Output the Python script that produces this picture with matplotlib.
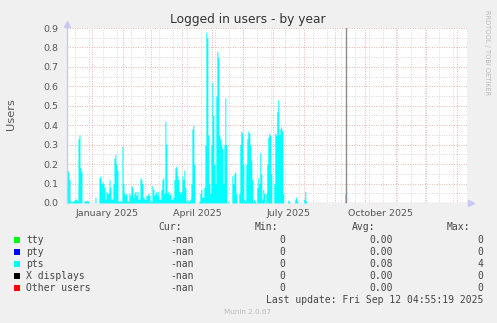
import matplotlib
matplotlib.use("Agg")
import matplotlib.pyplot as plt
import matplotlib.dates as mdates
import numpy as np
import pandas as pd

DAY0 = pd.Timestamp("2025-01-01")
X_START = pd.Timestamp("2024-12-06")
X_END = pd.Timestamp("2026-01-10 10:00")
NOW = pd.Timestamp("2025-09-12 04:55:19")

# pts users, sparse: day offset from 2025-01-01 -> daily value (other days 0)
pts_day = [-25, -24, -23, -22, -21, -20, -19, -18, -17, -16, -15, -14, -13, -12, -11,
           -8, -7, -6, -5, -4, 3, 7, 8, 9, 10, 11, 12, 13, 14, 15, 16, 17, 18, 19, 20,
           21, 22, 23, 24, 25, 26, 27, 28, 29, 30, 31, 32, 33, 34, 35, 36, 37, 38, 39,
           40, 41, 42, 43, 44, 45, 46, 47, 48, 49, 50, 51, 52, 53, 54, 55, 56, 57, 58,
           59, 60, 61, 62, 63, 64, 65, 66, 67, 68, 69, 70, 71, 72, 73, 74, 75, 76, 77,
           78, 79, 80, 81, 82, 83, 84, 85, 86, 87, 88, 89, 90, 91, 92, 93, 94, 95, 96,
           97, 98, 99, 100, 101, 102, 107, 108, 109, 110, 111, 112, 113, 114, 115, 116,
           117, 118, 119, 120, 121, 122, 123, 124, 125, 126, 127, 128, 129, 130, 131,
           132, 133, 134, 136, 140, 141, 142, 143, 144, 147, 148, 149, 150, 151, 152,
           153, 154, 155, 156, 157, 158, 159, 160, 161, 162, 163, 165, 166, 167, 168,
           169, 170, 171, 172, 174, 175, 176, 177, 178, 179, 182, 183, 184, 185, 186,
           187, 188, 189, 190, 191, 196, 197, 203, 204, 205, 212, 213, 214, 253, 254]
pts_val = [.17, .16, .12, .01, .005, .01, .01, .015, .02, .02, .01, .33, .35, .18, .16,
           .012, .01, .015, .01, .01, .03, .13, .14, .10, .11, .10, .08, .02, .06, .05, .05, .12, .08, .02, .02,
           .10, .23, .25, .20, .17, .01, .01, .01, .01, .29, .10, .05, .04, .05, .01, .01, .05, .04, .09,
           .08, .03, .05, .06, .04, .06, .02, .02, .13, .12, .10, .03, .02, .02, .04, .04, .05, .04, .01,
           .01, .09, .07, .04, .05, .06, .04, .06, .02, .02, .07, .12, .13, .05, .42, .30, .05, .06, .04,
           .05, .02, .02, .03, .12, .18, .19, .14, .12, .06, .05, .06, .14, .12, .17, .08, .01, .02, .01,
           .01, .02, .10, .38, .40, .20, .01, .05, .07, .03, .03, .08, .30, .88, .85, .35,
           .10, .05, .30, .62, .45, .20, .10, .55, .78, .75, .35, .33, .30, .28, .10,
           .30, .54, .30, .01, .14, .10, .15, .16, .05, .05, .30, .37, .36, .20, .02,
           .01, .20, .33, .37, .36, .30, .22, .12, .01, .02, .01, .08, .13, .10, .26,
           .15, .02, .07, .05, .05, .20, .34, .36, .35, .15, .10, .36, .35, .47, .53,
           .35, .38, .39, .37, .05, .015, .01, .02, .03, .01, .02, .06, .01, .05, .20]

legend_names = ["tty", "pty", "pts", "X displays", "Other users"]
legend_colors = ["#00ff00", "#0000ff", "#00ffff", "#000000", "#ff0000"]
cur_vals = ["-nan", "-nan", "-nan", "-nan", "-nan"]
min_vals = ["0", "0", "0", "0", "0"]
avg_vals = ["0.00", "0.00", "0.08", "0.00", "0.00"]
max_vals = ["0", "0", "4", "0", "0"]

y_ticks = [0.0, 0.1, 0.2, 0.3, 0.4, 0.5, 0.6, 0.7, 0.8, 0.9]
x_label_months = ["2025-01", "2025-04", "2025-07", "2025-10"]

# ---- build daily series ----
days = pd.date_range(X_START.normalize(), NOW.normalize(), freq="D")
series = pd.Series(0.0, index=days)
for d, v in zip(pts_day, pts_val):
    series[DAY0 + pd.Timedelta(days=d)] = v

W, H = 497, 323
fig = plt.figure(figsize=(W / 100, H / 100), dpi=100)
fig.patch.set_facecolor("#f0f0f0")

L, R, T, B = 66.5, 466.5, 28, 203
ax = fig.add_axes([L / W, 1 - B / H, (R - L) / W, (B - T) / H])
ax.set_facecolor("white")
for s in ax.spines.values():
    s.set_visible(False)

ax.set_xlim(X_START, X_END)
ax.set_ylim(0, 0.9)

grid_gray = "#d8d8d8"
grid_red = "#eab4b4"
dots = (0, (1, 1.5))

# minor grid: every 0.05 / every 14 days
for y in np.arange(0.05, 0.9, 0.1):
    ax.axhline(y, color=grid_gray, lw=0.7, ls=dots, zorder=1)
for d in pd.date_range("2024-12-15", X_END, freq="14D"):
    ax.axvline(d, color=grid_gray, lw=0.7, ls=dots, zorder=1)
# major grid: y ticks / month starts
for y in y_ticks[1:]:
    ax.axhline(y, color=grid_red, lw=0.7, ls=dots, zorder=1)
for d in pd.date_range("2024-12-01", X_END, freq="MS"):
    if d > X_START:
        ax.axvline(d, color=grid_red, lw=0.7, ls=dots, zorder=1)

ax.fill_between(series.index, 0, series.values, step="mid", color="#00ffff",
                lw=0, zorder=2)

# "now" marker
ax.axvline(NOW, color="#8c8c8c", lw=1.0, zorder=3)

# axes lines + arrows
ax.axhline(0, color="#eaa0a0", lw=0.9, zorder=4)
ax.plot([0, 0], [0, 1.03], transform=ax.transAxes, color="#c8c8f4", lw=1.0,
        clip_on=False, zorder=4)
ax.plot([0], [1 + 4 / (B - T)], transform=ax.transAxes, marker="^", ms=5,
        color="#c8c8f4", clip_on=False, zorder=5)
ax.plot([1 + 4 / (R - L)], [0], transform=ax.transAxes, marker=">", ms=5,
        color="#c8c8f4", clip_on=False, zorder=5)

# ticks
ax.set_yticks(y_ticks)
ax.set_yticklabels([f"{v:.1f}" for v in y_ticks])
label_pos = [pd.Timestamp(m + "-16") for m in x_label_months]
ax.set_xticks(label_pos)
ax.set_xticklabels([pd.Timestamp(m + "-01").strftime("%B %Y") for m in x_label_months])
ax.tick_params(axis="both", length=0, labelsize=6.8, labelcolor="#555555")
ax.tick_params(axis="y", pad=5.5)
ax.tick_params(axis="x", pad=4)

# texts
fig.text(248 / W, 1 - 19.5 / H, "Logged in users - by year", ha="center", va="center",
         fontsize=8.8, color="#333333")
fig.text(11 / W, 1 - 114 / H, "Users", rotation=90, ha="center", va="center",
         fontsize=8.2, color="#555555")
fig.text(487 / W, 1 - 53 / H, "RRDTOOL / TOBI OETIKER", rotation=270, ha="center",
         va="center", fontsize=4.8, color="#bbbbbb")

# legend
mono = "DejaVu Sans Mono"
lc = "#444444"
fs = 7.0
hy = 227
for txt, x in zip(["Cur:", "Min:", "Avg:", "Max:"], [158, 255, 352, 447]):
    fig.text(x / W, 1 - hy / H, txt, family=mono, fontsize=fs, color=lc,
             ha="left", va="center")
row_y = [240, 252, 264, 276, 288]
for i, y in enumerate(row_y):
    fig.patches.append(plt.Rectangle(((14) / W, 1 - (y + 3) / H), 6 / W, 6 / H,
                                     transform=fig.transFigure, facecolor=legend_colors[i],
                                     edgecolor="none"))
    fig.text(26 / W, 1 - y / H, legend_names[i], family=mono, fontsize=fs, color=lc,
             ha="left", va="center")
    fig.text(193.5 / W, 1 - y / H, cur_vals[i], family=mono, fontsize=fs, color=lc,
             ha="right", va="center")
    fig.text(285 / W, 1 - y / H, min_vals[i], family=mono, fontsize=fs, color=lc,
             ha="right", va="center")
    fig.text(393 / W, 1 - y / H, avg_vals[i], family=mono, fontsize=fs, color=lc,
             ha="right", va="center")
    fig.text(483 / W, 1 - y / H, max_vals[i], family=mono, fontsize=fs, color=lc,
             ha="right", va="center")
fig.text(483 / W, 1 - 300 / H, "Last update: " + NOW.strftime("%a %b %d %H:%M:%S %Y"),
         family=mono, fontsize=fs, color=lc, ha="right", va="center")
fig.text(248 / W, 1 - 312 / H, "Munin 2.0.67", fontsize=5.2, color="#bbbbbb",
         ha="center", va="center")

fig.savefig("out.png", dpi=100, facecolor=fig.get_facecolor())
